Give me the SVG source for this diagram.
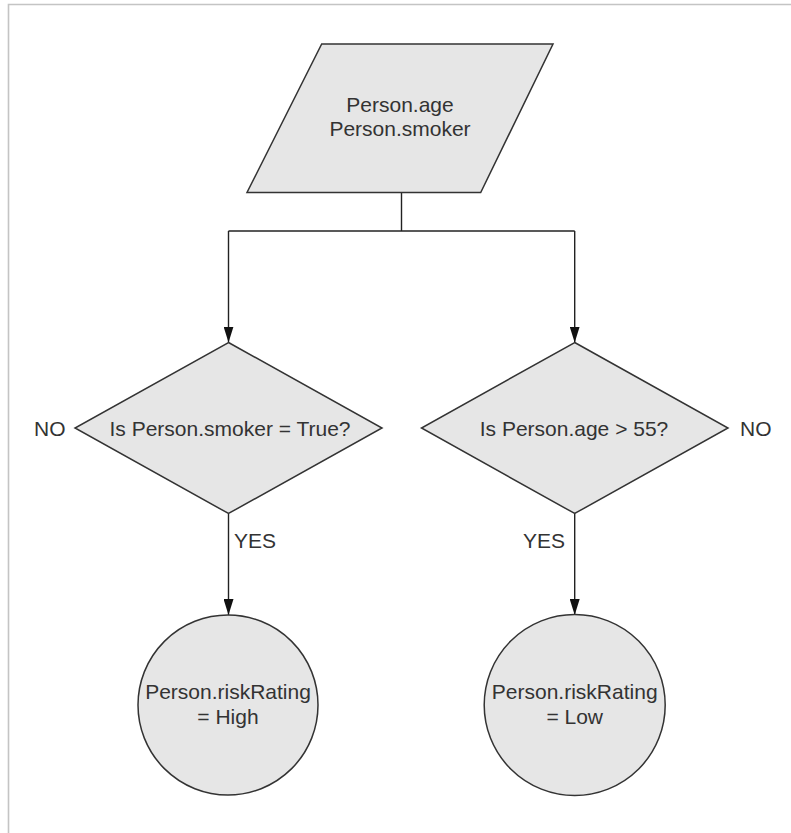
<svg xmlns="http://www.w3.org/2000/svg" width="791" height="833" viewBox="0 0 791 833">
  <style>
    .shape { fill: #e6e6e6; stroke: #333333; stroke-width: 1.5; }
    .lbl { font-family: "Liberation Sans", Arial, sans-serif; font-size: 21px; fill: #333333; }
    .mid { text-anchor: middle; }
    .conn { fill: none; stroke: #222222; stroke-width: 1.4; }
    .frame { fill: none; stroke: #c4c4c4; stroke-width: 1.6; }
  </style>
  <defs>
    <marker id="arrow" viewBox="0 0 16 10" refX="16" refY="5" markerWidth="16" markerHeight="10" markerUnits="userSpaceOnUse" orient="auto">
      <path d="M0,0 L16,5 L0,10 z" fill="#111111"/>
    </marker>
  </defs>
  <rect width="791" height="833" fill="#ffffff"/>
  <path class="frame" d="M8.5,833 L8.5,4.5 L791,4.5"/>

  <g id="connectors">
    <path class="conn" d="M401.5,192.5 L401.5,231"/>
    <path class="conn" d="M228.5,231 L574.7,231"/>
    <path class="conn" d="M228.5,231 L228.5,342.5" marker-end="url(#arrow)"/>
    <path class="conn" d="M574.7,231 L574.7,342.5" marker-end="url(#arrow)"/>
    <path class="conn" d="M228.5,513.5 L228.5,615" marker-end="url(#arrow)"/>
    <path class="conn" d="M574.7,513.5 L574.7,615" marker-end="url(#arrow)"/>
    <text class="lbl" x="234" y="548">YES</text>
    <text class="lbl" x="523" y="548">YES</text>
    <text class="lbl" x="34" y="435.5">NO</text>
    <text class="lbl" x="740" y="435.5">NO</text>
  </g>

  <g id="input">
    <polygon class="shape" points="321.7,44 553,44 480.7,192.5 247,192.5"/>
    <text class="lbl mid" x="400" y="111.5">Person.age</text>
    <text class="lbl mid" x="400" y="136">Person.smoker</text>
  </g>

  <g id="decision-smoker">
    <polygon class="shape" points="228.5,342.5 382,428 228.5,513.5 75,428"/>
    <text class="lbl mid" x="230" y="435.5">Is Person.smoker = True?</text>
  </g>

  <g id="decision-age">
    <polygon class="shape" points="574.7,342.5 728,428 574.7,513.5 421.5,428"/>
    <text class="lbl mid" x="574" y="435.5">Is Person.age &gt; 55?</text>
  </g>

  <g id="result-high">
    <circle class="shape" cx="228" cy="705" r="90"/>
    <text class="lbl mid" x="228" y="699">Person.riskRating</text>
    <text class="lbl mid" x="228" y="724">= High</text>
  </g>

  <g id="result-low">
    <circle class="shape" cx="574.7" cy="705" r="90.5"/>
    <text class="lbl mid" x="574.7" y="699">Person.riskRating</text>
    <text class="lbl mid" x="574.7" y="724">= Low</text>
  </g>
</svg>
